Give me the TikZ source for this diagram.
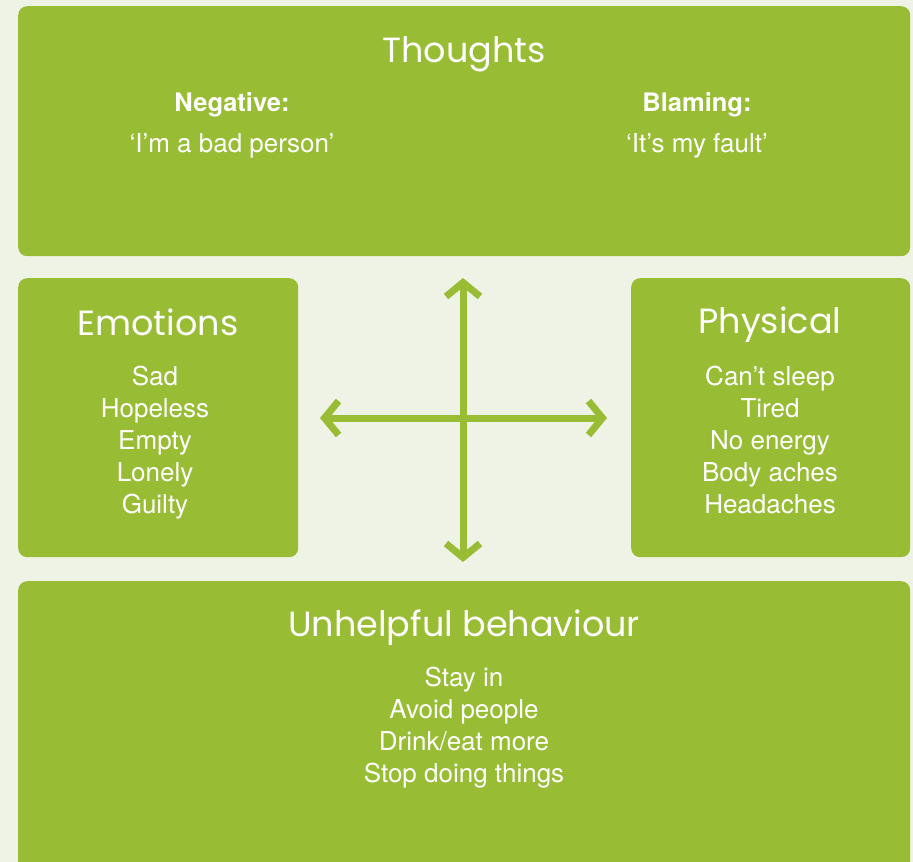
\documentclass[tikz,border=0pt]{standalone}
\usepackage{fontspec}
\setmainfont{TeX Gyre Heros}
\newfontfamily\headfont{Poppins}
\usetikzlibrary{arrows.meta,positioning}

\definecolor{leaf}{HTML}{98BD34}
\definecolor{paper}{HTML}{EFF3E5}

\tikzset{
  panel/.style={fill=leaf, rounded corners=9pt, inner sep=0pt, anchor=north west},
  heading/.style={text=white, font=\headfont\fontsize{35}{38}\selectfont},
  label/.style={text=white, font=\bfseries\fontsize{25.5}{30}\selectfont},
  item/.style={text=white, align=center, font=\fontsize{26}{32}\selectfont},
  link/.style={leaf, line width=7pt,
    {Straight Barb[length=14pt,width=34pt]}-{Straight Barb[length=14pt,width=34pt]}}
}

\begin{document}
\begin{tikzpicture}[x=1pt,y=-1pt]

      \fill[paper] (0,0) rectangle (913,862);
      \clip (0,0) rectangle (913,862);

      % the four panels
      \node[panel, minimum width=892pt, minimum height=250pt] (thoughts) at (18,6) {};
      \node[panel, minimum width=280pt, minimum height=279pt] (emotions) at (18,278) {};
      \node[panel, minimum width=279pt, minimum height=279pt] (physical) at (631,278) {};
      \node[panel, minimum width=892pt, minimum height=320pt] (behaviour) at (18,581) {};

      % thoughts
      \node[heading] (thoughtsHead) at (464,54) {Thoughts};
      \node[label] (negHead) at (232,105) {Negative:};
      \node[item] (negText) at (232,146) {‘I’m a bad person’};
      \node[label] (blameHead) at (697,105) {Blaming:};
      \node[item] (blameText) at (697,146) {‘It’s my fault’};

      % emotions and physical
      \node[heading] (emotionsHead) at (158,322) {Emotions};
      \node[item] (emotionsList) at (155,443) {Sad\\Hopeless\\Empty\\Lonely\\Guilty};
      \node[heading] (physicalHead) at (770,325) {Physical};
      \node[item] (physicalList) at (770,440) {Can’t sleep\\Tired\\No energy\\Body aches\\Headaches};

      % behaviour
      \node[heading] (behaviourHead) at (464,628) {Unhelpful behaviour};
      \node[item] (behaviourList) at (464,728) {Stay in\\Avoid people\\Drink/eat more\\Stop doing things};

      % cross of arrows
      \coordinate (up) at (463,278);
      \coordinate (down) at (463,562);
      \coordinate (west) at (320,418);
      \coordinate (east) at (607,418);
      \draw[link] (up) -- (down);
      \draw[link] (west) -- (east);

    \end{tikzpicture}
\end{document}
